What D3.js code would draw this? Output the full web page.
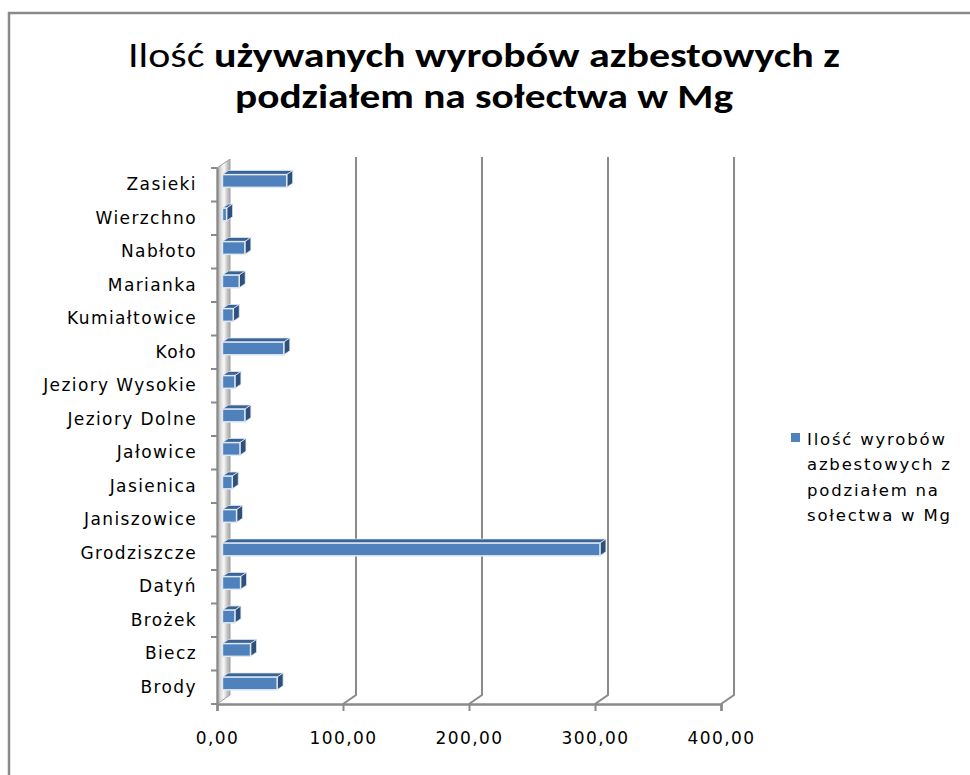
<!DOCTYPE html>
<html>
<head>
<meta charset="utf-8">
<script src="https://cdn.jsdelivr.net/npm/d3@7"></script>
<style>
  html, body { margin: 0; padding: 0; background: #fff; overflow: hidden; }
  svg { display: block; }
</style>
</head>
<body>
<div id="chart"></div>
<script>
// sołectwa, od góry do dołu tak jak na wykresie
const categories = ['Zasieki', 'Wierzchno', 'Nabłoto', 'Marianka', 'Kumiałtowice', 'Koło',
  'Jeziory Wysokie', 'Jeziory Dolne', 'Jałowice', 'Jasienica', 'Janiszowice', 'Grodziszcze',
  'Datyń', 'Brożek', 'Biecz', 'Brody'];
const values = [51, 3.3, 17.8, 13.3, 8.6, 48.7, 9.9, 17.8, 13.9, 7.8, 11.2, 299.6, 14.4, 9.9, 22.3, 43.4];
const xTicks = [0, 100, 200, 300, 400];
const titleLines = [['Ilość ', 'używanych wyrobów azbestowych z'], ['', 'podziałem na sołectwa w Mg']];
const legendLines = ['Ilość wyrobów', 'azbestowych z', 'podziałem na', 'sołectwa w Mg'];

const W = 970, H = 775;
const labelFont = '"DejaVu Sans", Verdana, sans-serif';
const titleFont = 'Carlito, "Liberation Sans Narrow", "Open Sans", sans-serif';

const svg = d3.select('#chart').append('svg').attr('width', W).attr('height', H);

const defs = svg.append('defs');
const wallGrad = defs.append('linearGradient').attr('id', 'wall')
  .attr('x1', 0).attr('y1', 0).attr('x2', 1).attr('y2', 0.03);
[['0', '#9c9c9c'], ['0.35', '#e2e2e2'], ['0.55', '#f8f8f8'], ['0.8', '#c4c4c4'], ['1', '#acacac']]
  .forEach(([o, c]) => wallGrad.append('stop').attr('offset', o).attr('stop-color', c));

// ramka wykresu
svg.append('rect').attr('x', 9).attr('y', 13).attr('width', 1000).attr('height', 800)
  .attr('fill', 'none').attr('stroke', '#8a8a8a').attr('stroke-width', 2.5);

// tytuł
titleLines.forEach((parts, i) => {
  const t = svg.append('text')
    .attr('x', 484).attr('y', 67 + i * 41)
    .attr('text-anchor', 'middle')
    .attr('font-family', titleFont).attr('font-size', 35).attr('fill', '#000')
    .attr('textLength', i === 0 ? 712 : 498).attr('lengthAdjust', 'spacingAndGlyphs');
  if (parts[0]) t.append('tspan').attr('font-weight', 'normal').text(parts[0]);
  t.append('tspan').attr('font-weight', 'bold').text(parts[1]);
});

// skale
const x = d3.scaleLinear().domain([0, 400]).range([217, 721]);
const y = d3.scaleBand().domain(categories).range([168, 704]).padding(0);
const dx = 13, dy = -9;          // głębia 3D
const t1 = 0.42, t2 = 0.88;      // przód i tył słupka w głębi
const barH = y.bandwidth() * 0.38;

// ściana boczna
const wall = svg.append('g');
wall.append('path')
  .attr('d', `M${x(0)},${y.range()[0]} L${x(0) + dx},${y.range()[0] + dy} L${x(0) + dx},${y.range()[1] + dy} L${x(0)},${y.range()[1]} Z`)
  .attr('fill', 'url(#wall)').attr('stroke', '#a0a0a0').attr('stroke-width', 1);

// linie siatki na tylnej ścianie + podłoga
const grid = svg.append('g').attr('stroke', '#8a8a8a').attr('stroke-width', 2).attr('fill', 'none');
xTicks.filter(d => d > 0).forEach(d => {
  grid.append('path')
    .attr('d', `M${x(d) + dx},${y.range()[0] + dy - 2} L${x(d) + dx},${y.range()[1] + dy} L${x(d)},${y.range()[1]}`);
});

// oś X
const xAxis = svg.append('g').attr('transform', `translate(0,${y.range()[1]})`)
  .call(d3.axisBottom(x).tickValues(xTicks).tickSize(7).tickPadding(21)
    .tickFormat(d => d3.format('.2f')(d).replace('.', ',')));
xAxis.select('.domain').attr('stroke', '#8a8a8a').attr('stroke-width', 2.5);
xAxis.selectAll('.tick line').attr('stroke', '#8a8a8a').attr('stroke-width', 2);
xAxis.selectAll('.tick text').attr('font-family', labelFont).attr('font-size', 17)
  .attr('letter-spacing', 1.4).attr('fill', '#000');

// oś Y
const yAxis = svg.append('g').attr('transform', `translate(${x(0)},0)`)
  .call(d3.axisLeft(y).tickSize(0).tickPadding(20));
yAxis.select('.domain').attr('stroke', '#8a8a8a').attr('stroke-width', 2);
yAxis.selectAll('.tick text').attr('font-family', labelFont).attr('font-size', 17)
  .attr('letter-spacing', 1.4).attr('fill', '#000');
const yTickPos = categories.map(c => y(c)).concat([y.range()[1]]);
svg.append('g').selectAll('line').data(yTickPos).enter().append('line')
  .attr('x1', x(0) - 6).attr('x2', x(0)).attr('y1', d => d).attr('y2', d => d)
  .attr('stroke', '#8a8a8a').attr('stroke-width', 2);

// słupki 3D
const bars = svg.append('g');
const ddx = (t2 - t1) * dx, ddy = (t2 - t1) * dy;
categories.forEach((c, i) => {
  const v = values[i];
  const x0 = x(0) + t1 * dx, x1 = x(v) + t1 * dx;
  const yc = y(c) + y.bandwidth() / 2 + t1 * dy;
  const top = yc - barH / 2, bot = yc + barH / 2;
  const g = bars.append('g');
  g.append('path')
    .attr('d', `M${x0},${top} L${x1},${top} L${x1 + ddx},${top + ddy} L${x0 + ddx},${top + ddy} Z`)
    .attr('fill', '#3a6396').attr('stroke', '#dfe8f3').attr('stroke-width', 0.8);
  g.append('path')
    .attr('d', `M${x1},${top} L${x1 + ddx},${top + ddy} L${x1 + ddx},${bot + ddy} L${x1},${bot} Z`)
    .attr('fill', '#2d507c').attr('stroke', '#dfe8f3').attr('stroke-width', 0.8);
  g.append('rect')
    .attr('x', x0).attr('y', top).attr('width', x1 - x0).attr('height', barH)
    .attr('fill', '#4f81bd').attr('stroke', '#dfe8f3').attr('stroke-width', 1.5);
});

// legenda
const legend = svg.append('g').attr('transform', 'translate(791,433)');
legend.append('rect').attr('width', 9).attr('height', 9).attr('fill', '#4f81bd');
legend.selectAll('text').data(legendLines).enter().append('text')
  .attr('x', 16).attr('y', (d, i) => 12 + i * 25.3)
  .attr('font-family', labelFont).attr('font-size', 16.5).attr('letter-spacing', 1.8)
  .attr('fill', '#000').text(d => d);
</script>
</body>
</html>
